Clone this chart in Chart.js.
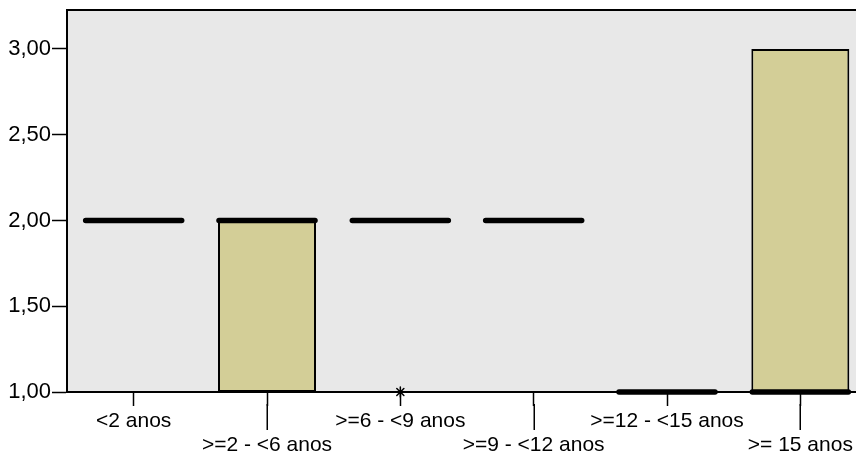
<!DOCTYPE html>
<html>
<head>
<meta charset="utf-8">
<script src="https://cdn.jsdelivr.net/npm/chart.js@4/dist/chart.umd.min.js"></script>
<style>
  html, body { margin: 0; padding: 0; background: #ffffff; overflow: hidden; }
  #wrap { width: 856px; height: 452px; position: relative; overflow: hidden; }
  #c { display: block; }
</style>
</head>
<body>
<div id="wrap"><canvas id="c" width="867" height="452"></canvas></div>
<script>
// Age groups on the x axis
const categories = ['<2 anos', '>=2 - <6 anos', '>=6 - <9 anos', '>=9 - <12 anos', '>=12 - <15 anos', '>= 15 anos'];
// Box limits (first and third quartile); null where the box collapses onto the median
const boxLow  = [null, 1, null, null, null, 1];
const boxHigh = [null, 2, null, null, null, 3];
// Medians of each group
const medians = [2, 2, 2, 2, 1, 1];
// Extreme values, drawn as asterisks
const extremeGroups = ['>=6 - <9 anos'];
const extremeValues = [1];
// Value axis ticks
const yTicks = [1, 1.5, 2, 2.5, 3];

const FONT = "'Liberation Sans', Arial, sans-serif";

const boxData = categories.map((c, i) => boxLow[i] === null ? null : [boxLow[i], boxHigh[i]]);
const extremeData = extremeGroups.map((g, i) => ({ x: g, y: extremeValues[i] }));

const frame = {
  id: 'frame',
  beforeDraw(chart) {
    const { ctx, chartArea: a } = chart;
    ctx.save();
    ctx.fillStyle = '#e8e8e8';
    ctx.fillRect(a.left, a.top, a.right - a.left, a.bottom - a.top);
    ctx.restore();
  },
  beforeDatasetsDraw(chart) { chart.ctx.lineCap = 'round'; },
  afterDatasetsDraw(chart) { chart.ctx.lineCap = 'butt'; },
  afterDraw(chart) {
    const { ctx, chartArea: a } = chart;
    const xs = chart.scales.x;
    ctx.save();
    ctx.strokeStyle = '#000';
    // top frame line
    ctx.lineWidth = 2;
    ctx.beginPath();
    ctx.moveTo(a.left - 1, a.top);
    ctx.lineTo(a.right, a.top);
    ctx.stroke();
    // longer ticks for the labels on the second row
    ctx.lineWidth = 1.5;
    for (let i = 1; i < categories.length; i += 2) {
      const x = Math.round(xs.getPixelForTick(i)) + 0.25;
      ctx.beginPath();
      ctx.moveTo(x, a.bottom + 12);
      ctx.lineTo(x, a.bottom + 38);
      ctx.stroke();
    }
    ctx.restore();
  }
};

new Chart(document.getElementById('c'), {
  type: 'bar',
  data: {
    labels: categories,
    datasets: [
      {
        type: 'line',
        label: 'Mediana',
        data: medians,
        showLine: false,
        pointStyle: 'line',
        pointRadius: 48,
        pointBorderWidth: 5.5,
        borderColor: '#000',
        pointBorderColor: '#000',
        clip: false
      },
      {
        type: 'scatter',
        label: 'Extremos',
        data: extremeData,
        pointStyle: 'star',
        pointRadius: 5,
        pointBorderWidth: 1.5,
        pointBorderColor: '#000',
        borderColor: '#000',
        clip: false
      },
      {
        type: 'bar',
        label: 'Caixa',
        data: boxData,
        backgroundColor: '#d3ce97',
        borderColor: '#000',
        borderWidth: 2,
        borderSkipped: false,
        barPercentage: 0.735,
        categoryPercentage: 1
      }
    ]
  },
  plugins: [frame],
  options: {
    responsive: false,
    animation: false,
    events: [],
    layout: { autoPadding: false, padding: { top: 10, right: 0, bottom: 0, left: 0 } },
    plugins: { legend: { display: false }, tooltip: { enabled: false } },
    scales: {
      x: {
        offset: true,
        grid: {
          offset: false,
          drawOnChartArea: false,
          drawTicks: true,
          tickLength: 14,
          tickColor: '#000',
          tickWidth: 1.5
        },
        border: { display: true, color: '#000', width: 2 },
        ticks: {
          color: '#000',
          font: { family: FONT, size: 21, lineHeight: '24px' },
          padding: 3,
          maxRotation: 0,
          minRotation: 0,
          autoSkip: false,
          callback: (v, i) => i % 2 === 0 ? categories[i] : ['', categories[i]]
        },
        afterFit(s) { s.height = 60; s.paddingLeft = 0; s.paddingRight = 0; }
      },
      y: {
        min: 1,
        max: 3.227,
        grid: {
          drawOnChartArea: false,
          drawTicks: true,
          tickLength: 15,
          tickColor: '#000',
          tickWidth: 1.5
        },
        border: { display: true, color: '#000', width: 2 },
        afterBuildTicks(s) { s.ticks = yTicks.map(v => ({ value: v })); },
        ticks: {
          color: '#000',
          font: { family: FONT, size: 22 },
          padding: 1,
          callback: v => Number(v).toFixed(2).replace('.', ',')
        },
        afterFit(s) { s.width = 67; s.paddingTop = 0; s.paddingBottom = 0; }
      }
    }
  }
});
</script>
</body>
</html>
